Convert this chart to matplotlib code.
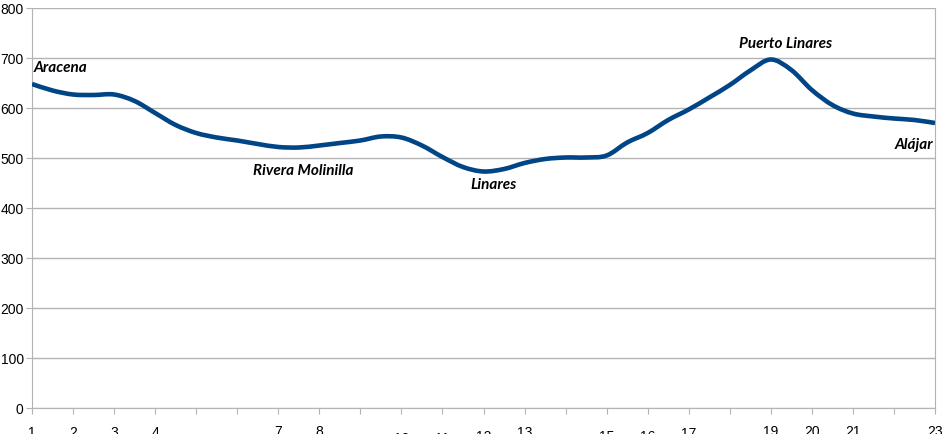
import numpy as np
import matplotlib.pyplot as plt
from matplotlib.path import Path
from matplotlib.patches import PathPatch

# elevation profile, x in km-steps (tick index), y in metres
km = [0, 0.5, 1, 1.5, 2, 2.5, 3, 3.5, 4, 4.5, 5, 5.5, 6, 6.5, 7, 7.5, 8, 8.5,
      9, 9.5, 10, 10.5, 11, 11.5, 12, 12.5, 13, 13.5, 14, 14.5, 15, 15.5, 16,
      16.5, 17, 17.5, 18, 18.5, 19, 19.5, 20, 20.5, 21, 21.5, 22]
alt = [648, 635, 627, 626, 627, 614, 590, 566, 550, 541, 535, 528, 522, 521,
       525, 530, 535, 543, 541, 525, 502, 482, 473, 478, 490, 498, 501, 501,
       505, 531, 550, 576, 597, 621, 646, 675, 697, 676, 636, 606, 589, 583,
       579, 576, 570]

xticklabels = ['1', '2', '3', '4', '5', '6', '7', '8', '9', '10', '11', '12',
               '13', '14', '15', '16', '17', '', '19', '20', '21', '', '23']
# staggered label offsets (points) as in the original, mostly cut by the edge
label_pads = [9, 9, 9, 9, 14, 14, 8, 8, 14, 13, 13, 12, 9, 14, 12, 12, 10, 8,
              8, 8, 8, 8, 8]

places = ['Aracena', 'Rivera Molinilla', 'Linares', 'Puerto Linares', 'Alájar']
place_x = [0.03, 6.6, 11.25, 18.35, 21.95]
place_y = [680, 474, 446, 728, 527]
place_ha = ['left', 'center', 'center', 'center', 'right']


def smooth_path(xs, ys):
    # Catmull-Rom style bezier through the points (smooth line rendering)
    p = np.column_stack([xs, ys]).astype(float)
    n = len(p)
    verts = [p[0]]
    codes = [Path.MOVETO]
    for i in range(n - 1):
        p0 = p[max(i - 1, 0)]
        p1 = p[i]
        p2 = p[i + 1]
        p3 = p[min(i + 2, n - 1)]
        c1 = p1 + (p2 - p0) / 6
        c2 = p2 - (p3 - p1) / 6
        verts += [c1, c2, p2]
        codes += [Path.CURVE4] * 3
    return Path(verts, codes)


fig = plt.figure(figsize=(9.42, 4.34), dpi=100)
ax = fig.add_axes([32 / 942, 26 / 434, 903 / 942, 400 / 434])

ax.add_patch(PathPatch(smooth_path(km, alt), fill=False, ec='#004586',
                       lw=3.3, capstyle='butt', zorder=3))

ax.set_xlim(0, 22)
ax.set_ylim(0, 800)
ax.set_yticks(np.arange(0, 801, 100))
ax.set_xticks(np.arange(23))
ax.set_xticklabels(xticklabels)
ax.grid(axis='y', color='#b3b3b3', lw=1)
ax.set_axisbelow(True)

for s in ['left', 'right', 'bottom']:
    ax.spines[s].set_color('#b3b3b3')
ax.spines['top'].set_visible(False)
ax.tick_params(axis='both', color='#b3b3b3', length=4, labelsize=10,
               labelcolor='#000000')
ax.tick_params(axis='y', pad=2)
for t, p in zip(ax.xaxis.get_major_ticks(), label_pads):
    t.set_pad(p)
for lab in ax.get_yticklabels() + ax.get_xticklabels():
    lab.set_fontfamily('Liberation Sans')

for name, x, y, ha in zip(places, place_x, place_y, place_ha):
    ax.text(x, y, name, ha=ha, va='center', fontsize=11, fontweight='bold',
            fontstyle='italic', family='Lato', color='#000000')

fig.savefig('out.png', dpi=100)
